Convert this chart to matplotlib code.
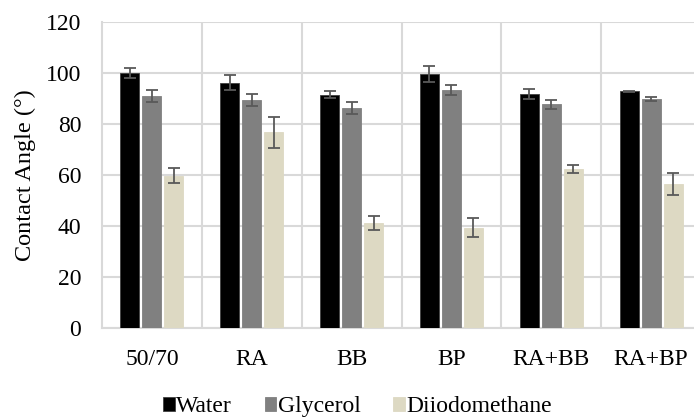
import matplotlib.pyplot as plt
import numpy as np

plt.rcParams['font.family'] = ['Liberation Serif', 'DejaVu Serif']

categories = ['50/70', 'RA', 'BB', 'BP', 'RA+BB', 'RA+BP']
water = [100.0, 96.2, 91.5, 99.6, 91.9, 92.8]
water_err = [2.0, 3.0, 1.4, 3.2, 1.9, 0.3]
glycerol = [91.0, 89.3, 86.3, 93.3, 87.7, 89.8]
glycerol_err = [2.4, 2.3, 2.2, 2.1, 1.9, 0.7]
diiodo = [59.7, 76.7, 41.1, 39.3, 62.2, 56.5]
diiodo_err = [3.0, 6.0, 2.7, 3.8, 1.6, 4.3]

fig = plt.figure(figsize=(6.94, 4.2), dpi=100)
ax = fig.add_axes([102 / 694, 1 - 328 / 420, 599 / 694, 306 / 420])

x = np.arange(len(categories))
w = 0.19
off = 0.22
err_kw = dict(ecolor='#595959', elinewidth=1.3, capsize=4, capthick=1.3)

ax.bar(x - off, water, w, yerr=water_err, color='black', edgecolor='#404040',
       linewidth=0.6, label='Water', error_kw=err_kw, zorder=3)
ax.bar(x, glycerol, w, yerr=glycerol_err, color='#808080', edgecolor='#808080',
       linewidth=0.6, label='Glycerol', error_kw=err_kw, zorder=3)
ax.bar(x + off, diiodo, w, yerr=diiodo_err, color='#DDD9C3', edgecolor='#DDD9C3',
       linewidth=0.6, label='Diiodomethane', error_kw=err_kw, zorder=3)

ax.set_xlim(-0.5, len(categories) - 0.5)
ax.set_ylim(0, 120)
ax.set_yticks(np.arange(0, 121, 20))
ax.set_xticks(x)
ax.set_xticklabels(categories)
ax.set_xticks(np.arange(0.5, len(categories) - 0.5, 1), minor=True)
ax.grid(True, which='major', axis='y', color='#D9D9D9', linewidth=1.5, zorder=0)
ax.grid(True, which='minor', axis='x', color='#D9D9D9', linewidth=1.5, zorder=0)
ax.tick_params(axis='both', which='both', length=0, labelsize=17)
ax.tick_params(axis='x', pad=15)
ax.tick_params(axis='y', pad=15)

for s in ['top', 'right']:
    ax.spines[s].set_visible(False)
ax.spines['left'].set_color('#D9D9D9')
ax.spines['left'].set_linewidth(1.5)
ax.spines['bottom'].set_color('#D9D9D9')
ax.spines['bottom'].set_linewidth(1.5)

ax.set_ylabel('Contact Angle (°)', fontsize=17.5, labelpad=7)

fig.legend(loc='center', bbox_to_anchor=(0.515, 0.031), ncol=3, frameon=False,
           fontsize=17, handlelength=0.5, handleheight=0.5, handletextpad=0.05,
           columnspacing=1.4, borderpad=0)

fig.savefig('out.png', dpi=100)
